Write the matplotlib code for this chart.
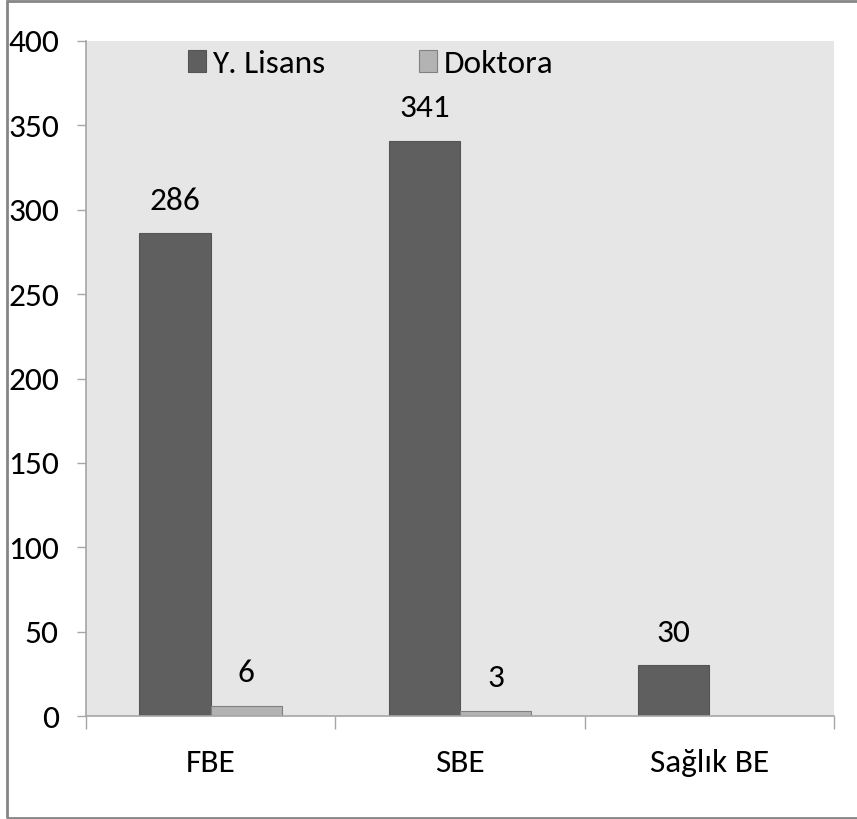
import numpy as np
import matplotlib
matplotlib.use("Agg")
import matplotlib.pyplot as plt
from matplotlib.patches import Rectangle

plt.rcParams['font.family'] = ['Carlito', 'DejaVu Sans']

# --- data ---
categories = ["FBE", "SBE", "Sağlık BE"]
y_lisans = [286, 341, 30]
doktora = [6, 3, 0]
series_names = ["Y. Lisans", "Doktora"]
yticks = [0, 50, 100, 150, 200, 250, 300, 350, 400]

dark = "#5f5f5f"
light = "#b3b3b3"
bg = "#e6e6e6"
axis_col = "#a6a6a6"
fs = 24

fig = plt.figure(figsize=(8.57, 8.19), dpi=100)
ax = fig.add_axes([86/857, 103/819, 748/857, 675/819])
ax.set_facecolor(bg)

x = np.arange(len(categories))
w = 1 / 3.5
b1 = ax.bar(x - w/2, y_lisans, w, color=dark, edgecolor="#555555", lw=0.8, label=series_names[0])
b2 = ax.bar(x + w/2, doktora, w, color=light, edgecolor="#808080", lw=0.8, label=series_names[1])

# value labels (Doktora zero is not shown)
for bars, vals in [(b1, y_lisans), (b2, doktora)]:
    for rect, v in zip(bars, vals):
        if v:
            ax.annotate(str(v), (rect.get_x() + rect.get_width()/2, v), xytext=(0, 23.5),
                        textcoords="offset points", ha="center", va="center", fontsize=fs)

ax.set_xlim(-0.5, len(categories) - 0.5)
ax.set_ylim(0, 400)
ax.set_yticks(yticks)
ax.tick_params(axis="y", labelsize=fs, length=6.5, width=1, color=axis_col, direction="out", pad=13)

# category separators as major ticks, names as minor tick labels
ax.set_xticks(np.arange(-0.5, len(categories)), minor=False)
ax.set_xticklabels([])
ax.tick_params(axis="x", which="major", length=9, width=1, color=axis_col, direction="out")
ax.set_xticks(x, minor=True)
ax.set_xticklabels(categories, minor=True)
ax.tick_params(axis="x", which="minor", length=0, labelsize=fs, pad=24)

for s in ["top", "right"]:
    ax.spines[s].set_visible(False)
for s in ["left", "bottom"]:
    ax.spines[s].set_color(axis_col)
    ax.spines[s].set_linewidth(1.2)

ax.legend(loc="upper left", bbox_to_anchor=(0.136, 0.987), ncol=2, frameon=False,
          fontsize=fs, handlelength=0.54, handleheight=0.6, handletextpad=0.2,
          columnspacing=2.8, borderpad=0, borderaxespad=0)

# outer chart frame
fig.patches.append(Rectangle((7/857, 1/819), 860/857, 817/819, transform=fig.transFigure,
                             fill=False, edgecolor="#868686", lw=2))

fig.savefig("out.png", dpi=100)
